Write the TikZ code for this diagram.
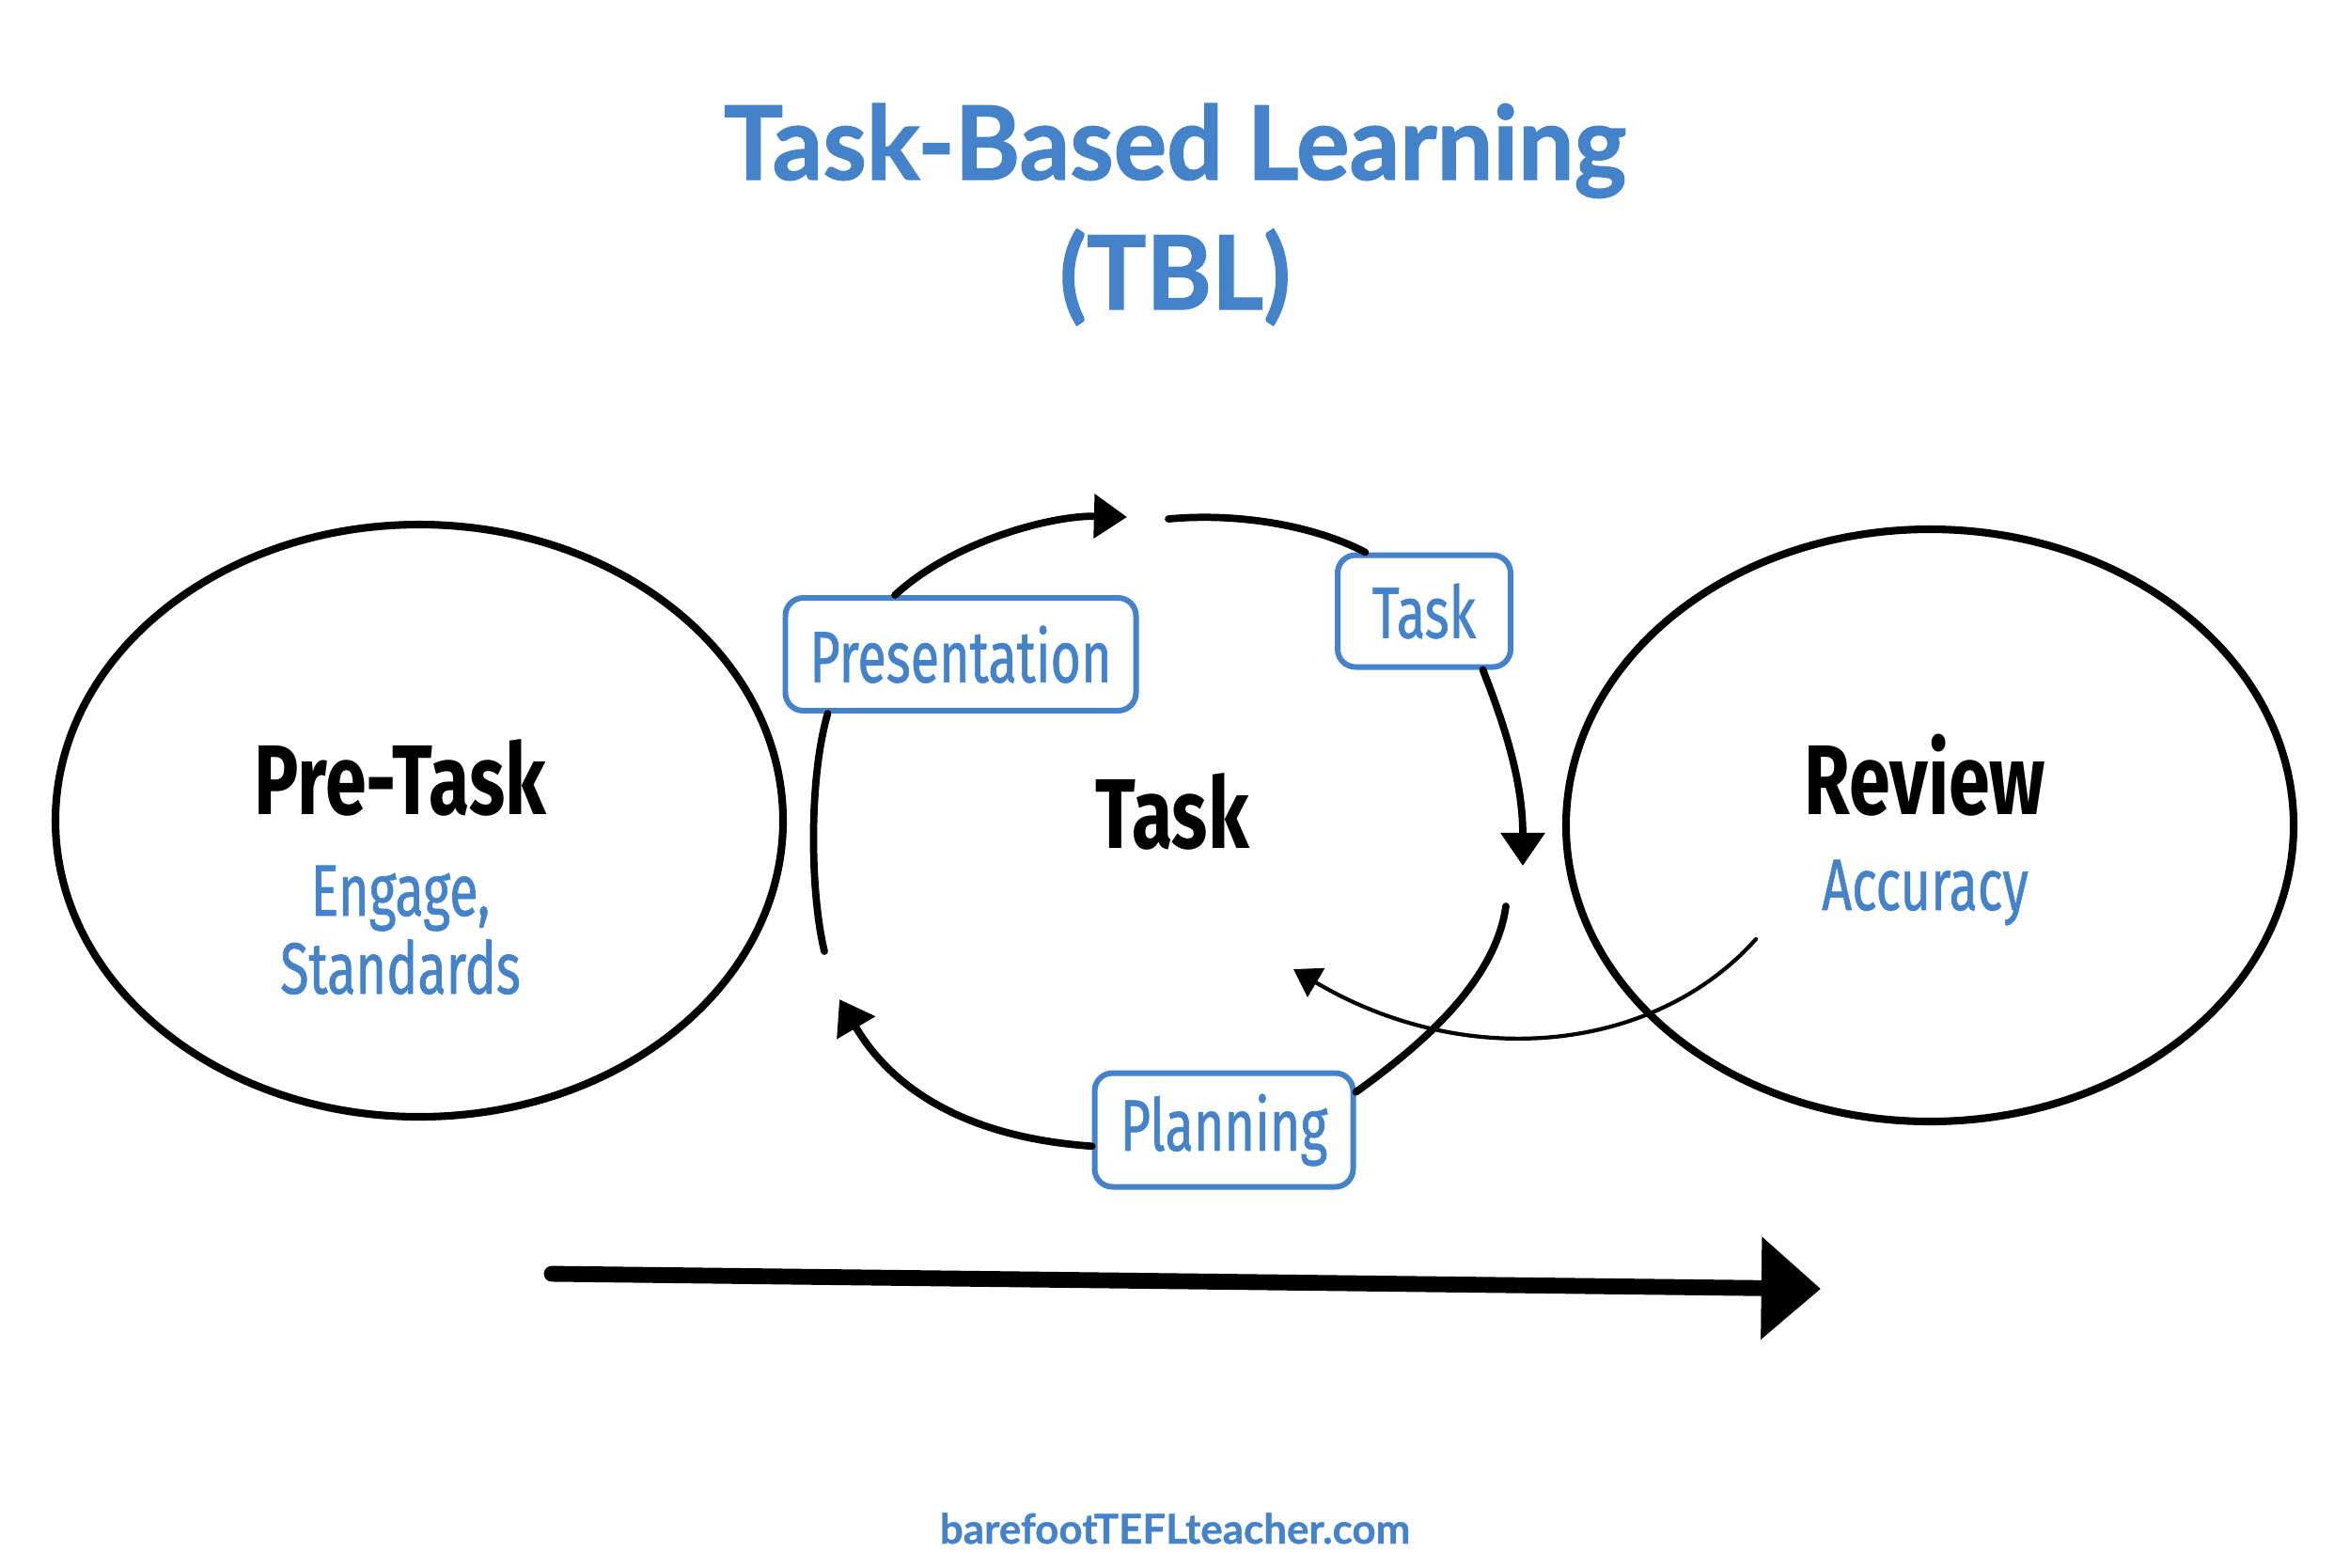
\documentclass[tikz,border=0pt]{standalone}
\usepackage{fontspec}
\usetikzlibrary{arrows.meta,shapes.geometric}
\newfontfamily\titlefont{Lato}[FakeBold=1.2, FakeStretch=0.97]
\newfontfamily\footfont{Lato}[FakeBold=0.8]
\newfontfamily\handfont{Fira Sans}[FakeStretch=0.75]
\newfontfamily\handblue{Fira Sans}[FakeStretch=0.72, FakeBold=0.8]
\definecolor{tblblue}{RGB}{68,131,202}
\tikzset{
  circ/.style={draw=black, line width=2.3pt, ellipse, minimum width=7.74cm, minimum height=6.3cm, inner sep=0},
  lbox/.style={draw=tblblue, line width=1.7pt, rounded corners=0.19cm, text=tblblue, font=\handblue\fontsize{22}{26}\selectfont, inner sep=0},
  cyc/.style={line width=2.2pt, line cap=round},
  head/.style={-{Triangle[length=10pt,width=13pt]}},
  hwbig/.style={font=\handfont\bfseries\fontsize{30}{34}\selectfont, anchor=base},
  hwblue/.style={font=\handblue\fontsize{22}{26}\selectfont, text=tblblue, anchor=base},
  ttl/.style={anchor=base, text=tblblue, font=\titlefont\bfseries\fontsize{31}{36}\selectfont}
}
\begin{document}
\begin{tikzpicture}
\useasboundingbox[fill=white] (0,0) rectangle (25,-16.67);
% title
\node[ttl] (t1) at (12.5,-1.91) {Task-Based Learning};
\node[ttl] (t2) at (12.5,-3.29) {(TBL)};
% circles
\node[circ] (pre) at (4.46,-8.73) {};
\node[circ] (rev) at (20.53,-8.78) {};
% boxes
\node[lbox, minimum width=3.73cm, minimum height=1.2cm] (pres) at (10.22,-6.96) {Presentation};
\node[lbox, minimum width=1.84cm, minimum height=1.19cm] (taskbox) at (15.15,-6.50) {Task};
\node[lbox, minimum width=2.75cm, minimum height=1.21cm] (plan) at (13.02,-12.02) {Planning};
% texts
\node[hwbig] (pretxt) at (4.26,-8.66) {Pre-Task};
\node[hwblue] (engage) at (4.26,-9.74) {Engage,};
\node[hwblue] (stand) at (4.26,-10.57) {Standards};
\node[hwbig] (tasktxt) at (12.47,-9.02) {Task};
\node[hwbig] (revtxt) at (20.48,-8.66) {Review};
\node[hwblue] (acc) at (20.48,-9.68) {Accuracy};
% coordinates
\coordinate (a1) at (11.99,-5.50);
\coordinate (b0) at (12.43,-5.52);
\coordinate (c1) at (16.20,-9.21);
\coordinate (d0) at (16.02,-9.64);
\coordinate (e1) at (8.93,-10.63);
\coordinate (f0) at (8.77,-10.12);
\coordinate (g0) at (18.68,-9.99);
\coordinate (g1) at (13.76,-10.31);
\coordinate (h0) at (5.87,-13.55);
\coordinate (h1) at (19.37,-13.71);
% cycle arrows
\draw[cyc, head] (pres.138) .. controls (10.15,-5.75) and (11.2,-5.48) .. (a1);
\draw[cyc] (b0) .. controls (13.2,-5.45) and (14.0,-5.6) .. (taskbox.135);
\draw[cyc, head] (taskbox.-45) .. controls (16.0,-7.7) and (16.2,-8.3) .. (c1);
\draw[cyc] (d0) .. controls (15.9,-10.5) and (15.0,-11.2) .. (plan.16);
\draw[cyc, head] (plan.187) .. controls (10.3,-12.1) and (9.5,-11.6) .. (e1);
\draw[cyc] (f0) .. controls (8.62,-9.5) and (8.6,-8.3) .. (pres.204);
% thin arrow from review
\draw[line width=1.2pt, line cap=round, -{Triangle[length=8pt,width=10pt]}] (g0) .. controls (17.6,-11.2) and (15.6,-11.4) .. (g1);
% big timeline arrow
\draw[line width=4.8pt, line cap=round, -{Triangle[length=18pt,width=30pt]}] (h0) -- (h1);
% footer
\node[anchor=base, text=tblblue, font=\footfont\bfseries\fontsize{12.5}{15}\selectfont] (foot) at (12.5,-16.42) {barefootTEFLteacher.com};
\end{tikzpicture}
\end{document}
